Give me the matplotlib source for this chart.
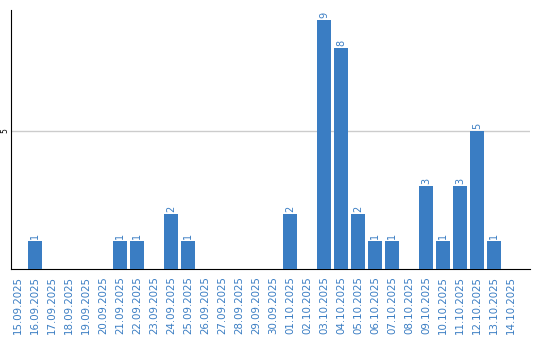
import matplotlib
matplotlib.use("Agg")
import matplotlib.pyplot as plt

dates = ["15.09.2025", "16.09.2025", "17.09.2025", "18.09.2025", "19.09.2025",
         "20.09.2025", "21.09.2025", "22.09.2025", "23.09.2025", "24.09.2025",
         "25.09.2025", "26.09.2025", "27.09.2025", "28.09.2025", "29.09.2025",
         "30.09.2025", "01.10.2025", "02.10.2025", "03.10.2025", "04.10.2025",
         "05.10.2025", "06.10.2025", "07.10.2025", "08.10.2025", "09.10.2025",
         "10.10.2025", "11.10.2025", "12.10.2025", "13.10.2025", "14.10.2025"]
values = [0, 1, 0, 0, 0, 0, 1, 1, 0, 2, 1, 0, 0, 0, 0, 0, 2, 0, 9, 8, 2, 1, 1, 0,
          3, 1, 3, 5, 1, 0]

blue = "#3a7dc3"
fig = plt.figure(figsize=(5.4, 3.4), dpi=100)
ax = fig.add_axes([11/540, 1-269/340, (530-11)/540, (269-10)/340])
x = list(range(len(dates)))
ax.bar(x, values, width=14/17, color=blue, zorder=3)
for xi, v in zip(x, values):
    if v > 0:
        ax.text(xi, v + 0.08, str(v), rotation=90, ha="center", va="bottom",
                color=blue, fontsize=7)
ax.set_xlim(-7/17, 30.1)
ax.set_ylim(0, 9.38)
ax.set_xticks(x)
ax.set_xticklabels(dates, rotation=90, fontsize=7.4, color=blue)
ax.set_yticks([5])
ax.set_yticklabels(["5"], rotation=90, fontsize=5.5, va="center")
ax.tick_params(axis="both", length=0)
ax.tick_params(axis="x", pad=5)
ax.tick_params(axis="y", pad=1)
ax.grid(axis="y", color="#cccccc", linewidth=1, zorder=0)
for s in ["top", "right"]:
    ax.spines[s].set_visible(False)
ax.spines["left"].set_color("black")
ax.spines["bottom"].set_color("black")
fig.savefig("out.png", dpi=100)
